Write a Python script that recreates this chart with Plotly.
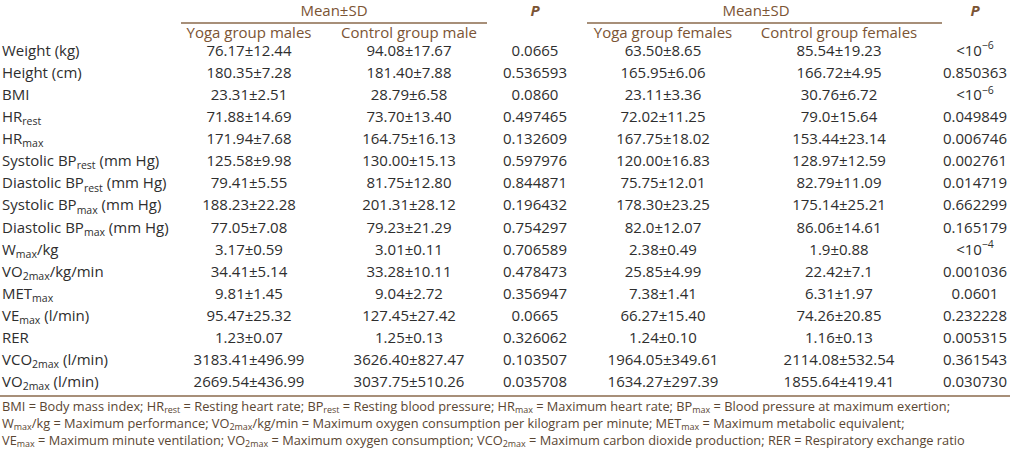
import plotly.graph_objects as go

# ---------------- data ----------------
variables = [
    "Weight (kg)", "Height (cm)", "BMI", "HR<sub>rest</sub>", "HR<sub>max</sub>",
    "Systolic BP<sub>rest</sub> (mm Hg)", "Diastolic BP<sub>rest</sub> (mm Hg)",
    "Systolic BP<sub>max</sub> (mm Hg)", "Diastolic BP<sub>max</sub> (mm Hg)",
    "W<sub>max</sub>/kg", "VO<sub>2max</sub>/kg/min", "MET<sub>max</sub>",
    "VE<sub>max</sub> (l/min)", "RER", "VCO<sub>2max</sub> (l/min)", "VO<sub>2max</sub> (l/min)",
]
yoga_males = [
    "76.17±12.44", "180.35±7.28", "23.31±2.51", "71.88±14.69", "171.94±7.68",
    "125.58±9.98", "79.41±5.55", "188.23±22.28", "77.05±7.08", "3.17±0.59",
    "34.41±5.14", "9.81±1.45", "95.47±25.32", "1.23±0.07", "3183.41±496.99",
    "2669.54±436.99",
]
control_males = [
    "94.08±17.67", "181.40±7.88", "28.79±6.58", "73.70±13.40", "164.75±16.13",
    "130.00±15.13", "81.75±12.80", "201.31±28.12", "79.23±21.29", "3.01±0.11",
    "33.28±10.11", "9.04±2.72", "127.45±27.42", "1.25±0.13", "3626.40±827.47",
    "3037.75±510.26",
]
p_males = [
    "0.0665", "0.536593", "0.0860", "0.497465", "0.132609", "0.597976", "0.844871",
    "0.196432", "0.754297", "0.706589", "0.478473", "0.356947", "0.0665",
    "0.326062", "0.103507", "0.035708",
]
yoga_females = [
    "63.50±8.65", "165.95±6.06", "23.11±3.36", "72.02±11.25", "167.75±18.02",
    "120.00±16.83", "75.75±12.01", "178.30±23.25", "82.0±12.07", "2.38±0.49",
    "25.85±4.99", "7.38±1.41", "66.27±15.40", "1.24±0.10", "1964.05±349.61",
    "1634.27±297.39",
]
control_females = [
    "85.54±19.23", "166.72±4.95", "30.76±6.72", "79.0±15.64", "153.44±23.14",
    "128.97±12.59", "82.79±11.09", "175.14±25.21", "86.06±14.61", "1.9±0.88",
    "22.42±7.1", "6.31±1.97", "74.26±20.85", "1.16±0.13", "2114.08±532.54",
    "1855.64±419.41",
]
p_females = [
    "<10<sup>−6</sup>", "0.850363", "<10<sup>−6</sup>", "0.049849", "0.006746",
    "0.002761", "0.014719", "0.662299", "0.165179", "<10<sup>−4</sup>", "0.001036",
    "0.0601", "0.232228", "0.005315", "0.361543", "0.030730",
]
group_header = "Mean±SD"
p_header = "<b><i>P</i></b>"
col_headers = ["Yoga group males", "Control group male", "Yoga group females", "Control group females"]
footnotes = [
    "BMI = Body mass index; HR<sub>rest</sub> = Resting heart rate; BP<sub>rest</sub> = Resting blood pressure; "
    "HR<sub>max</sub> = Maximum heart rate; BP<sub>max</sub> = Blood pressure at maximum exertion;",
    "W<sub>max</sub>/kg = Maximum performance; VO<sub>2max</sub>/kg/min = Maximum oxygen consumption per kilogram "
    "per minute; MET<sub>max</sub> = Maximum metabolic equivalent;",
    "VE<sub>max</sub> = Maximum minute ventilation; VO<sub>2max</sub> = Maximum oxygen consumption; "
    "VCO<sub>2max</sub> = Maximum carbon dioxide production; RER = Respiratory exchange ratio",
]

# ---------------- layout / style ----------------
W, H = 1010, 451
FONT = "Open Sans"
BODY = "#2e2e2e"
BROWN = "#7b5434"
LINE = "#8a6a4c"
FS = 15

col_x = {"label": 2, "ym": 249, "cm": 409, "pm": 535, "yf": 663, "cf": 839, "pf": 975}
row0, row_dy = 52, 22.1
row_y = [row0 + i * row_dy for i in range(len(variables))]

fig = go.Figure()


def add_text(xs, ys, texts, pos, color=BODY, size=FS, family=FONT):
    fig.add_trace(go.Scatter(
        x=xs, y=ys, text=texts, mode="text", textposition=pos,
        textfont=dict(family=family, size=size, color=color),
        hoverinfo="skip", showlegend=False, cliponaxis=False,
    ))


n = len(variables)
add_text([col_x["label"]] * n, row_y, variables, "middle right")
for key, vals in [("ym", yoga_males), ("cm", control_males), ("pm", p_males),
                  ("yf", yoga_females), ("cf", control_females), ("pf", p_females)]:
    add_text([col_x[key]] * n, row_y, vals, "middle center")

# headers
add_text([334, 756], [12, 12], [group_header] * 2, "middle center", color=BROWN, size=FS)
add_text([col_x["pm"], col_x["pf"]], [12, 12], [p_header] * 2, "middle center", color=BROWN, size=FS)
add_text([col_x["ym"], col_x["cm"], col_x["yf"], col_x["cf"]], [34] * 4, col_headers,
         "middle center", color=BROWN, size=FS)

# footnotes
add_text([2] * 3, [407.5, 424.5, 441.5], footnotes, "middle right", color="#5a4632", size=12.8)

# rules
for x0, x1, y in [(181, 487, 23), (587, 942, 23), (0, W, 396)]:
    fig.add_shape(type="line", xref="x", yref="y", x0=x0, x1=x1, y0=y, y1=y,
                  line=dict(color=LINE, width=1.5))

fig.update_layout(
    width=W, height=H, margin=dict(l=0, r=0, t=0, b=0),
    paper_bgcolor="white", plot_bgcolor="white",
    xaxis=dict(range=[0, W], visible=False, fixedrange=True),
    yaxis=dict(range=[H, 0], visible=False, fixedrange=True),
)
fig.write_html(
    "out.html",
    config={"displayModeBar": False, "staticPlot": True},
    post_script="document.body.style.margin='0';document.body.style.overflow='hidden';",
)
